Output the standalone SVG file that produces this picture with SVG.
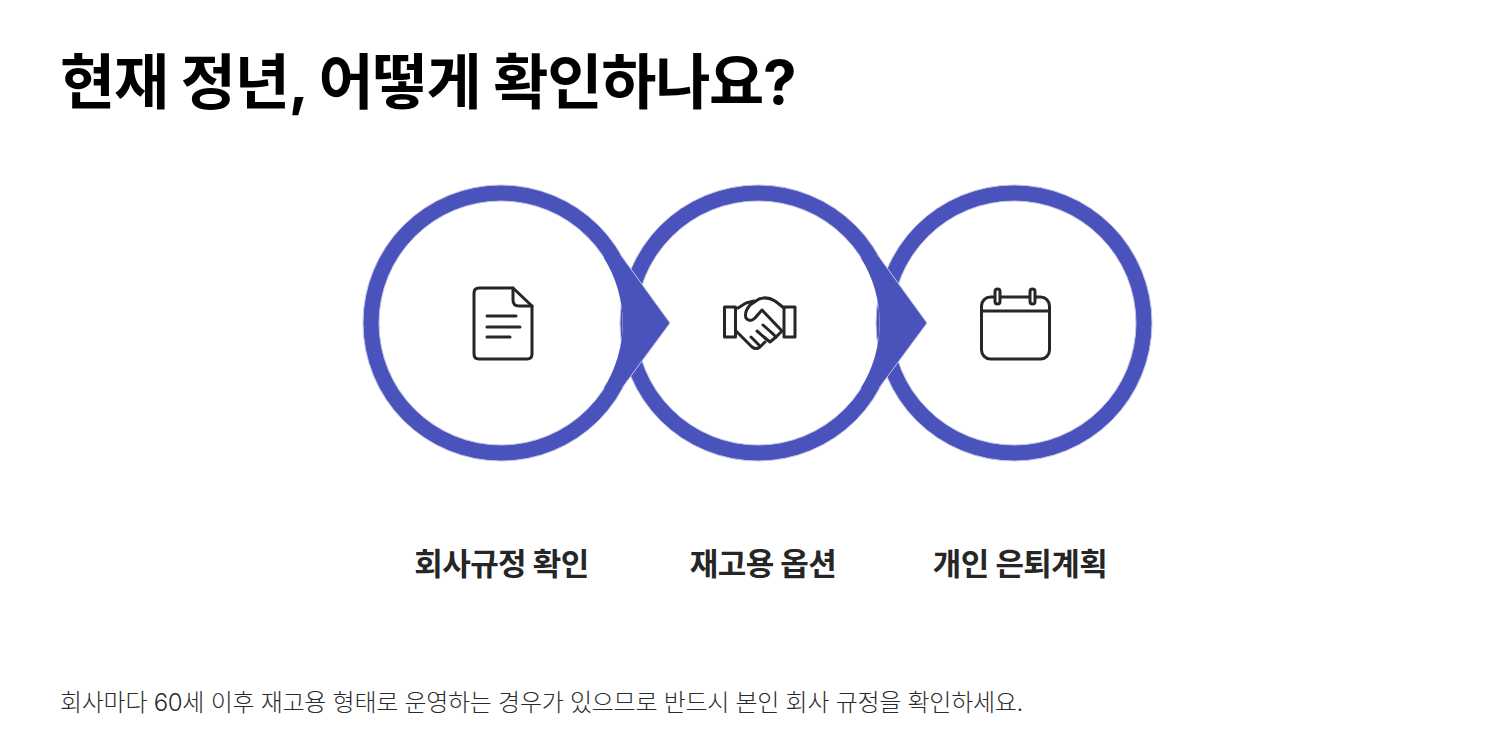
<svg xmlns="http://www.w3.org/2000/svg" width="1504" height="750" viewBox="0 0 1504 750">
<style>
text{font-family:Inter,"Noto Sans CJK KR","Noto Sans",sans-serif}
.t{font-size:60px;font-weight:700;fill:#000;letter-spacing:-1.26px}
.l{font-size:31px;font-weight:700;fill:#262626;text-anchor:middle;letter-spacing:-.6px}
.f{font-size:24px;font-weight:300;fill:#2b2b2b;letter-spacing:-.28px}
.ring{fill:none;stroke:#4a52bb;stroke-width:16}
.edge{fill:none;stroke:#c3c5e6;stroke-width:1}
.arrow{fill:#4a52bb}
.arrow-edge{fill:none;stroke:#c3c5e6;stroke-width:1}
.ico{fill:none;stroke:#262626;stroke-width:3;stroke-linecap:round;stroke-linejoin:round}
</style>
<rect width="1504" height="750" fill="#fff"/>
<text class="t" x="60" y="104">현재 정년, 어떻게 확인하나요?</text>
<g id="node-3"><circle class="ring" cx="1014" cy="323" r="130"/><circle class="edge" cx="1014" cy="323" r="138"/><circle class="edge" cx="1014" cy="323" r="122"/>
<g class="ico"><rect x="981.500" y="297" width="68" height="62" rx="9"/><path d="M981.500 311H1049.500"/><rect x="995" y="289" width="5" height="15" rx="2.500" fill="#fff"/><rect x="1030" y="289" width="5" height="15" rx="2.500" fill="#fff"/></g></g>
<g id="node-2"><circle class="ring" cx="758" cy="323" r="130"/><circle class="edge" cx="758" cy="323" r="138"/><circle class="edge" cx="758" cy="323" r="122"/>
<g class="ico"><rect x="724.500" y="307" width="11" height="30"/><rect x="784" y="307" width="11" height="30"/><path d="M738 308L746 303L754 301"/><path d="M784 308L775 301Q767 296 759 299L750 305Q744 312 746 318Q750 323 755 318L762 310L782 331L776 337"/><path d="M736 331L752 347Q756 350 760 347L765 342"/><path d="M763 325L772 333M757 331L765 338M751 337L759 345"/><path d="M772 333L776 337L770 342L765 338L770 342"/></g></g>
<g id="node-1"><circle class="ring" cx="501" cy="323" r="130"/><circle class="edge" cx="501" cy="323" r="138"/><circle class="edge" cx="501" cy="323" r="122"/>
<g class="ico"><path d="M513 288H479Q474 288 474 293V354Q474 359 479 359H527Q532 359 532 354V306Z"/><path d="M513 288V300Q513 306 519 306H532"/><path d="M487 316H516M487 327H520M487 337H510"/></g></g>
<g id="connectors">
<path class="arrow" d="M614 246L670 323L622 388L604 388A122 122 0 0 0 604 258Z"/>
<path class="arrow-edge" d="M620 254L670 323L622 388"/>
<path class="arrow" d="M871 246L927 323L879 388L861 388A122 122 0 0 0 861 258Z"/>
<path class="arrow-edge" d="M877 254L927 323L879 388"/>
</g>
<g id="label-1"><text class="l" x="501.500" y="575">회사규정 확인</text></g>
<g id="label-2"><text class="l" x="763" y="575">재고용 옵션</text></g>
<g id="label-3"><text class="l" x="1020" y="575">개인 은퇴계획</text></g>
<text class="f" x="60" y="711">회사마다 60세 이후 재고용 형태로 운영하는 경우가 있으므로 반드시 본인 회사 규정을 확인하세요.</text>
</svg>
